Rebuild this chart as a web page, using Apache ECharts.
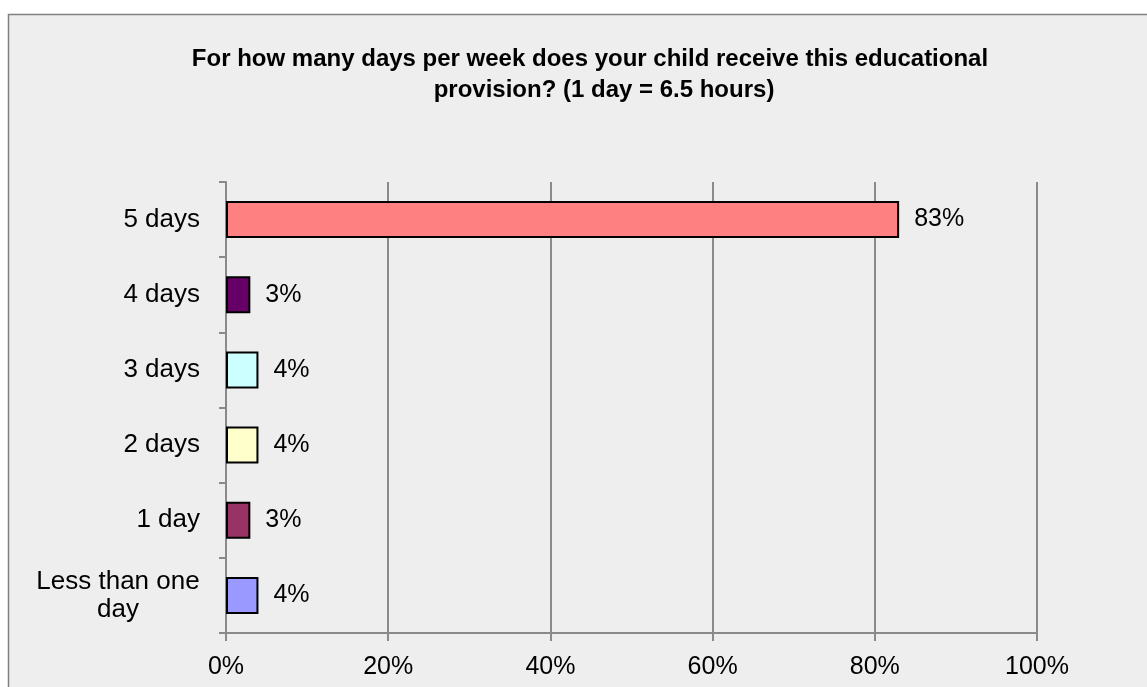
<!DOCTYPE html>
<html>
<head>
<meta charset="utf-8">
<style>
  html, body { margin: 0; padding: 0; background: #ffffff; }
  #chart { width: 1147px; height: 687px; }
</style>
<script src="https://cdn.jsdelivr.net/npm/echarts@6/dist/echarts.min.js"></script>
</head>
<body>
<div id="chart"></div>
<script>
// Survey answers, listed bottom-to-top as drawn on the category axis
const categories = ['Less than one day', '1 day', '2 days', '3 days', '4 days', '5 days'];
const percentages = [4, 3, 4, 4, 3, 83];
const barColors = ['#9999FF', '#993366', '#FFFFCC', '#CCFFFF', '#660066', '#FF8080'];
const xTicks = { min: 0, max: 100, interval: 20 };
const titleLines = [
  'For how many days per week does your child receive this educational',
  'provision? (1 day = 6.5 hours)'
];

const FONT = '"Liberation Sans", Arial, sans-serif';
const AXIS_GREY = '#8a8a8a';

const chart = echarts.init(document.getElementById('chart'), null, { renderer: 'canvas' });

// Title lines are drawn as two centred text elements
const titleStyle = {
  textAlign: 'center',
  fill: '#000000',
  fontFamily: FONT,
  fontWeight: 'bold',
  fontSize: 24
};
const titleGraphics = [
  { type: 'text', x: 590, y: 47, silent: true, style: Object.assign({ text: titleLines[0] }, titleStyle) },
  { type: 'text', x: 604, y: 78, silent: true, style: Object.assign({ text: titleLines[1] }, titleStyle) }
];

chart.setOption({
  backgroundColor: '#ffffff',
  animation: false,
  textStyle: { fontFamily: FONT },
  graphic: [
    {
      type: 'rect',
      z: -10,
      silent: true,
      shape: { x: 8.5, y: 14.5, width: 1200, height: 720 },
      style: { fill: '#eeeeee', stroke: '#808080', lineWidth: 1.5 }
    }
  ].concat(titleGraphics),
  grid: { left: 226, right: 110, top: 182, bottom: 54, containLabel: false },
  xAxis: {
    type: 'value',
    min: xTicks.min,
    max: xTicks.max,
    interval: xTicks.interval,
    axisLine: { show: true, lineStyle: { color: AXIS_GREY, width: 2 } },
    axisTick: { show: true, length: 8, lineStyle: { color: AXIS_GREY, width: 2 } },
    splitLine: { show: true, lineStyle: { color: AXIS_GREY, width: 2 } },
    axisLabel: {
      formatter: '{value}%',
      color: '#000000',
      fontFamily: FONT,
      fontSize: 25,
      margin: 22
    }
  },
  yAxis: {
    type: 'category',
    data: categories,
    axisLine: { show: true, lineStyle: { color: AXIS_GREY, width: 2 } },
    axisTick: { show: true, length: 7, alignWithLabel: false, lineStyle: { color: AXIS_GREY, width: 2 } },
    splitLine: { show: false },
    axisLabel: {
      color: '#000000',
      fontFamily: FONT,
      fontSize: 26,
      margin: 26,
      formatter: function (value) {
        if (value === 'Less than one day') {
          return '{wrap|Less than one}\n{wrap|day}';
        }
        return value;
      },
      rich: {
        wrap: {
          width: 164,
          align: 'center',
          fontSize: 26,
          lineHeight: 28,
          fontFamily: FONT,
          color: '#000000'
        }
      }
    }
  },
  series: [
    {
      type: 'bar',
      barWidth: 37,
      data: percentages.map(function (v, i) {
        return {
          value: v,
          itemStyle: { color: barColors[i], borderColor: '#000000', borderWidth: 2 }
        };
      }),
      label: {
        show: true,
        position: 'right',
        distance: 15,
        formatter: '{c}%',
        color: '#000000',
        fontFamily: FONT,
        fontSize: 25
      }
    }
  ]
});
</script>
</body>
</html>
